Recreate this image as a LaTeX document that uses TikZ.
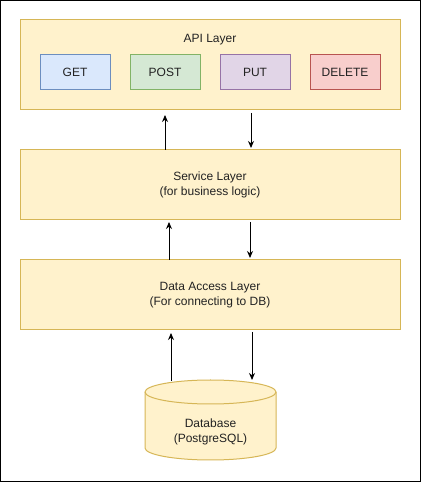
\documentclass[tikz,border=0pt]{standalone}
\usepackage{fontspec}
\setmainfont{Liberation Sans}
\usetikzlibrary{arrows.meta, positioning, calc}

\definecolor{layerfill}{HTML}{FFF2CC}
\definecolor{layerline}{HTML}{D6B656}
\definecolor{getfill}{HTML}{DAE8FC}
\definecolor{getline}{HTML}{6C8EBF}
\definecolor{postfill}{HTML}{D5E8D4}
\definecolor{postline}{HTML}{82B366}
\definecolor{putfill}{HTML}{E1D5E7}
\definecolor{putline}{HTML}{9673A6}
\definecolor{delfill}{HTML}{F8CECC}
\definecolor{delline}{HTML}{B85450}
\definecolor{txt}{HTML}{222222}

\begin{document}
\begin{tikzpicture}[x=1pt, y=1pt,
    txtfont/.style={font=\fontsize{12}{14.5}\selectfont, text=txt},
    layer/.style={draw=layerline, fill=layerfill, line width=1pt, outer sep=0pt,
        minimum width=380pt, minimum height=70pt, align=center, txtfont},
    verb/.style={line width=1pt, outer sep=0pt, minimum width=70pt, minimum height=35pt, txtfont},
    flow/.style={-{Stealth[length=7pt, width=6pt]}, line width=1pt}]

\useasboundingbox (0,0) rectangle (421,482);
\draw[line width=1pt] (0.5,0.5) rectangle (420.5,481.5);

% API layer at top with its four verbs
\node[layer, minimum height=90pt] (api) at (210,417) {};
\node[txtfont] (api-title) at ([yshift=-20pt]api.north) {API Layer};
\node[verb, draw=getline, fill=getfill] (get) at ($(api.west)+(55,-7.5)$) {GET};
\node[verb, draw=postline, fill=postfill, right=20pt of get] (post) {POST};
\node[verb, draw=putline, fill=putfill, right=20pt of post] (put) {PUT};
\node[verb, draw=delline, fill=delfill, right=20pt of put] (delete) {DELETE};

% Service and data access layers
\node[layer, below=40pt of api] (svc) {Service Layer\\(for business logic)};
\node[layer, below=40pt of svc] (dal) {Data Access Layer\\(For connecting to DB)};

% Database cylinder (box as anchor, outline drawn round it)
\node[minimum width=131pt, minimum height=80pt, inner sep=0pt, outer sep=0pt,
    below=50pt of dal, xshift=0.5pt] (db) {};
\draw[draw=layerline, fill=layerfill, line width=1pt]
    ($(db.north west)+(0,-12)$) -- ($(db.south west)+(0,12)$)
    arc[start angle=180, end angle=360, x radius=65.5pt, y radius=12pt]
    -- ($(db.north east)+(0,-12)$)
    arc[start angle=0, end angle=180, x radius=65.5pt, y radius=12pt] -- cycle;
\draw[draw=layerline, line width=1pt] ($(db.north west)+(0,-12)$)
    arc[start angle=180, end angle=360, x radius=65.5pt, y radius=12pt];
\node[txtfont, align=center] (db-text) at ([yshift=-12pt]db.center) {Database\\(PostgreSQL)};

% Requests going up, responses going down
\draw[flow] ([xshift=-45pt]svc.north) -- ([xshift=-45pt, yshift=-5pt]api.south);
\draw[flow] ([xshift=41pt, yshift=-3pt]api.south) -- ([xshift=41pt, yshift=2pt]svc.north);
\draw[flow] ([xshift=-41pt]dal.north) -- ([xshift=-41pt, yshift=-2pt]svc.south);
\draw[flow] ([xshift=40pt, yshift=-2pt]svc.south) -- ([xshift=40pt, yshift=2pt]dal.north);
\draw[flow] ([xshift=-39.5pt, yshift=-1pt]db.north) -- ([xshift=-39pt, yshift=-3pt]dal.south);
\draw[flow] ([xshift=42pt, yshift=-2pt]dal.south) -- ([xshift=41.5pt]db.north);

\end{tikzpicture}
\end{document}
